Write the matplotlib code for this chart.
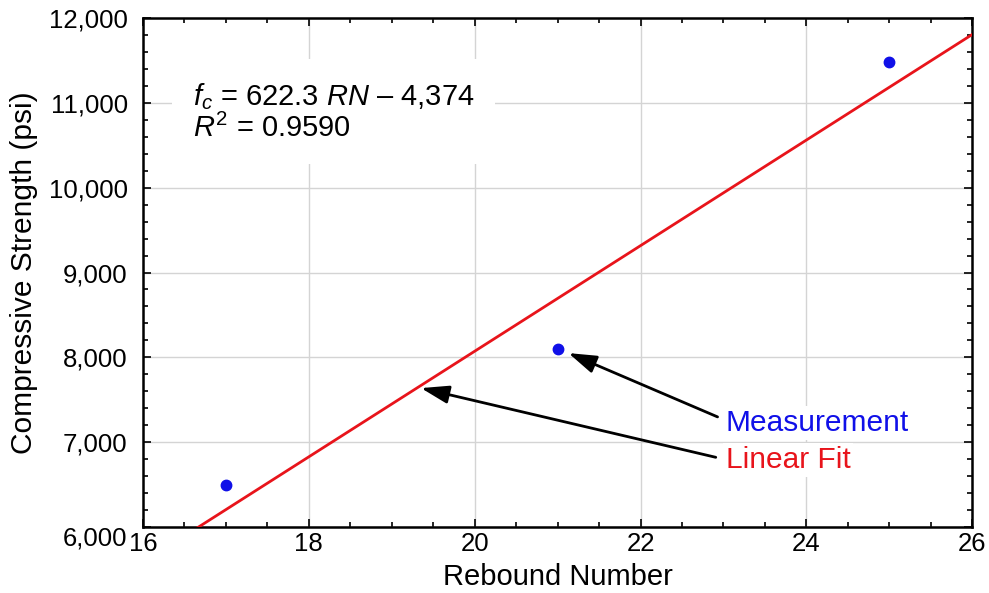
import numpy as np
import matplotlib.pyplot as plt
from matplotlib.ticker import MultipleLocator, FuncFormatter

plt.rcParams['font.family'] = ['Liberation Sans', 'DejaVu Sans']
plt.rcParams['mathtext.fontset'] = 'custom'
plt.rcParams['mathtext.rm'] = 'Liberation Sans'
plt.rcParams['mathtext.it'] = 'Liberation Sans:italic'

# measurements
rebound = [17, 21, 25]
strength = [6500, 8100, 11480]

# linear fit
slope = 622.3
intercept = -4374
r2 = 0.9590

fig = plt.figure(figsize=(9.89, 5.93), dpi=100)
ax = fig.add_axes([0.1446, 0.1113, 0.8384, 0.8583])

xfit = np.array([16, 26])
ax.plot(xfit, slope * xfit + intercept, color='#e8141b', lw=2, zorder=3)
ax.plot(rebound, strength, 'o', color='#1010e8', ms=7.5, zorder=4)

ax.set_xlim(16, 26)
ax.set_ylim(6000, 12000)
ax.xaxis.set_major_locator(MultipleLocator(2))
ax.xaxis.set_minor_locator(MultipleLocator(0.5))
ax.yaxis.set_major_locator(MultipleLocator(1000))
ax.yaxis.set_minor_locator(MultipleLocator(200))
ax.yaxis.set_major_formatter(FuncFormatter(lambda v, p: f'{int(v):,}'))
ax.tick_params(which='both', direction='in', top=True, right=True, labelsize=18.5, width=1.2)
ax.tick_params(which='major', length=6)
ax.tick_params(axis='y', which='major', pad=11)
ax.tick_params(which='minor', length=3.5)
ax.grid(True, which='major', color='#d4d4d4', lw=1)
for s in ax.spines.values():
    s.set_linewidth(1.8)

ax.set_xlabel('Rebound Number', fontsize=21, labelpad=5)
ax.set_ylabel('Compressive Strength (psi)', fontsize=21.5, labelpad=8)

ax.text(16.6, 11260,
        f'$f_c$ = {slope} $RN$ – {-intercept:,}\n$R^2$ = {r2:.4f}',
        fontsize=21, va='top', ha='left', linespacing=1.1,
        bbox=dict(facecolor='white', edgecolor='none', pad=15), zorder=5)

arrow = dict(arrowstyle='-|>,head_length=1.7,head_width=0.55', color='black', lw=2)
ax.annotate('', xy=(21.1, 8063), xytext=(22.96, 7285), arrowprops=arrow, zorder=5)
ax.annotate('', xy=(19.32, 7645), xytext=(22.94, 6814), arrowprops=arrow, zorder=5)
ax.text(23.03, 7226, 'Measurement', color='#1010e8', fontsize=21.5, va='center',
        bbox=dict(facecolor='white', edgecolor='none', pad=2), zorder=5)
ax.text(23.03, 6790, 'Linear Fit', color='#e8141b', fontsize=21.5, va='center',
        bbox=dict(facecolor='white', edgecolor='none', pad=2), zorder=5)

# bottom y label sits below the corner, as in the original
fig.canvas.draw()
for t in ax.yaxis.get_major_ticks():
    if abs(t.get_loc() - 6000) < 1:
        t.label1.set_va('top')

fig.savefig('out.png', dpi=100)
